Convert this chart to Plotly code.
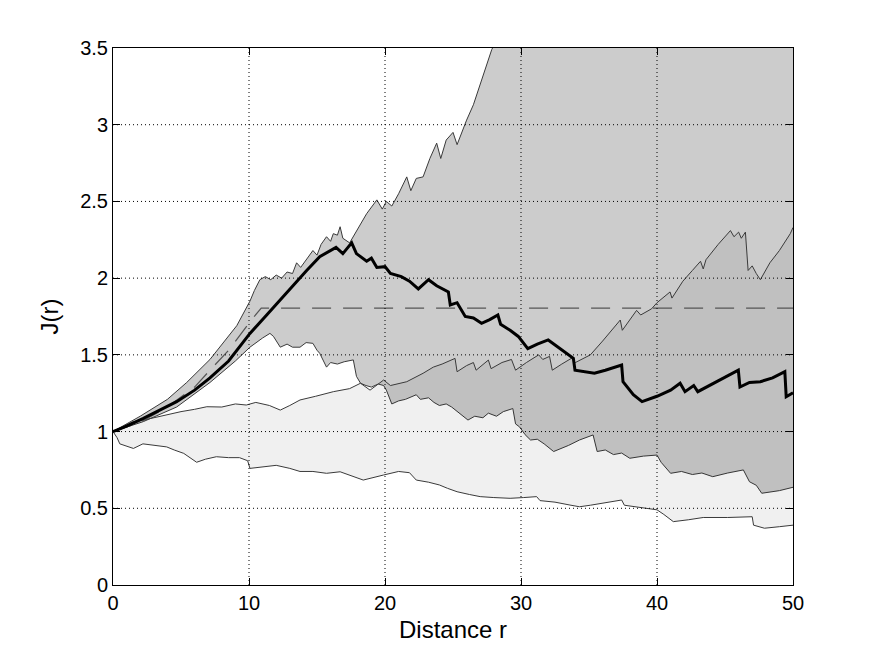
import plotly.graph_objects as go

# ---------------- data ----------------
X_TICKS = [0, 10, 20, 30, 40, 50]
Y_TICKS = [0, 0.5, 1, 1.5, 2, 2.5, 3, 3.5]
Y_TICK_LABELS = ["0", "0.5", "1", "1.5", "2", "2.5", "3", "3.5"]

# envelope A (dark band)
a_up_x = [0, 2, 4, 5.42, 7.13, 9.1, 10.07, 10.4, 10.8, 11.2, 11.6, 12.0, 12.4, 12.8, 13.2, 13.5,
          13.8, 14.2, 14.7, 15.0, 15.3, 15.7, 16.0, 16.2, 16.5, 16.7, 16.9, 17.4, 17.9, 18.65,
          19.4, 19.8, 20.1, 20.5, 21.0, 21.6, 21.9, 22.3, 22.8, 23.3, 23.8, 24.1, 24.5, 25.0,
          25.3, 26.0, 26.5, 27.0, 27.5, 27.85, 28.5, 30, 35, 40, 45, 50]
a_up_y = [1.0, 1.10, 1.21, 1.32, 1.47, 1.69, 1.85, 1.92, 1.99, 2.01, 1.99, 2.02, 2.0, 2.04, 2.03, 2.10,
          2.07, 2.12, 2.18, 2.15, 2.22, 2.27, 2.24, 2.29, 2.28, 2.335, 2.26, 2.23, 2.31, 2.42,
          2.51, 2.45, 2.50, 2.47, 2.55, 2.66, 2.57, 2.65, 2.66, 2.78, 2.88, 2.78, 2.90, 2.95,
          2.87, 3.03, 3.13, 3.26, 3.39, 3.49, 3.6, 3.8, 4.2, 4.6, 5.0, 5.4]

a_lo_x = [0, 2.23, 4.68, 7.13, 9.0, 10.07, 11.0, 11.54, 11.8, 12.3, 12.8, 13.2, 13.75, 14.2, 14.7,
          15.0, 15.2, 15.7, 16.0, 16.5, 17.0, 17.67, 17.9, 18.2, 18.6, 19.0, 19.5, 19.9, 20.1,
          20.5, 21.0, 21.5, 22.3, 22.6, 23.2, 23.6, 24.0, 24.5, 24.9, 25.5, 26.1, 26.6, 27.2,
          27.6, 28.2, 28.7, 29.07, 29.4, 29.6, 29.9, 30.3, 30.7, 31.2, 31.7, 32.4, 33.5, 34.3,
          35.1, 35.3, 35.6, 36.2, 36.8, 37.4, 38.0, 39.0, 40.0, 40.3, 41.0, 41.8, 42.6, 43.3,
          44.1, 45.2, 46.35, 46.8, 47.3, 47.7, 49.0, 50]
a_lo_y = [1.0, 1.065, 1.16, 1.32, 1.46, 1.55, 1.61, 1.64, 1.62, 1.55, 1.57, 1.55, 1.55, 1.58, 1.575,
          1.53, 1.51, 1.42, 1.45, 1.44, 1.455, 1.467, 1.36, 1.315, 1.30, 1.29, 1.31, 1.30, 1.27,
          1.18, 1.20, 1.21, 1.24, 1.21, 1.22, 1.19, 1.17, 1.18, 1.16, 1.12, 1.075, 1.10, 1.09,
          1.12, 1.10, 1.13, 1.14, 1.15, 1.05, 1.03, 0.98, 0.945, 0.95, 0.92, 0.87, 0.91, 0.945,
          0.975, 0.978, 0.87, 0.88, 0.85, 0.86, 0.826, 0.84, 0.847, 0.80, 0.728, 0.74, 0.72, 0.73,
          0.706, 0.73, 0.75, 0.673, 0.65, 0.598, 0.615, 0.637]

# envelope B (light band)
b_up_x = [0, 1.5, 2.5, 3.9, 5.0, 6.0, 6.9, 8.0, 9.0, 9.8, 10.5, 11.5, 12.3, 13.0, 13.75, 14.9,
          16.2, 17.4, 18.2, 18.9, 19.9, 20.4, 21.6, 22.8, 23.55, 24.2, 24.8, 25.15, 25.3, 26.0,
          26.5, 26.7, 27.6, 27.8, 28.6, 29.3, 29.6, 30.4, 31.3, 31.6, 32.1, 32.3, 33.0, 33.7,
          34.0, 35.1, 36.0, 37.3, 37.45, 38.5, 38.8, 39.6, 40.0, 40.96, 41.1, 41.9, 42.6, 43.2,
          43.4, 43.6, 44.5, 45.4, 45.66, 46.0, 46.2, 46.5, 46.7, 47.0, 47.3, 47.6, 48.3, 49.0,
          49.8, 50]
b_up_y = [1.0, 1.065, 1.08, 1.108, 1.13, 1.145, 1.162, 1.16, 1.18, 1.173, 1.19, 1.17, 1.14, 1.17,
          1.206, 1.23, 1.26, 1.28, 1.315, 1.27, 1.336, 1.30, 1.325, 1.38, 1.42, 1.44, 1.466, 1.477,
          1.39, 1.43, 1.45, 1.40, 1.466, 1.41, 1.45, 1.47, 1.40, 1.45, 1.50, 1.47, 1.49, 1.40, 1.44,
          1.477, 1.45, 1.50, 1.59, 1.727, 1.66, 1.79, 1.76, 1.80, 1.84, 1.91, 1.87, 1.98, 2.05,
          2.11, 2.06, 2.12, 2.22, 2.31, 2.27, 2.30, 2.26, 2.30, 2.05, 2.08, 2.03, 1.99, 2.10, 2.18,
          2.29, 2.33]

b_lo_x = [0, 0.3, 0.5, 1.5, 2.2, 3.0, 3.95, 4.5, 5.2, 6.15, 6.8, 7.6, 8.5, 9.3, 9.9, 10.07, 11.0,
          12.0, 13.0, 13.75, 14.7, 15.7, 16.7, 17.4, 18.4, 19.9, 21.0, 21.8, 22.3, 23.2, 24.0,
          24.6, 25.3, 26.2, 27.0, 28.0, 29.2, 30.2, 31.15, 31.4, 32.5, 33.6, 34.3, 35.1, 36.2,
          37.4, 37.6, 38.5, 39.5, 40.0, 40.5, 41.2, 42.3, 43.4, 45.2, 47.0, 47.1, 47.9, 49.0, 50]
b_lo_y = [1.0, 0.96, 0.92, 0.89, 0.92, 0.91, 0.90, 0.88, 0.858, 0.80, 0.82, 0.836, 0.83, 0.83,
          0.81, 0.76, 0.77, 0.78, 0.76, 0.74, 0.74, 0.728, 0.738, 0.717, 0.684, 0.717, 0.74, 0.732,
          0.684, 0.67, 0.652, 0.63, 0.608, 0.59, 0.576, 0.57, 0.565, 0.57, 0.576, 0.55, 0.54,
          0.521, 0.51, 0.52, 0.535, 0.554, 0.52, 0.51, 0.50, 0.49, 0.46, 0.413, 0.425, 0.44, 0.44,
          0.445, 0.39, 0.37, 0.38, 0.39]

# theoretical curve (dashed)
theo_x = [0, 2, 4, 6, 7.13, 8.5, 10.2, 10.9, 50]
theo_y = [1.0, 1.06, 1.16, 1.29, 1.40, 1.53, 1.73, 1.805, 1.805]

# observed J(r) (thick)
obs_x = [0, 1, 2.23, 3.5, 4.68, 6, 7.13, 8.5, 10.07, 11.3, 12.5, 13.4, 14.24, 15.2, 15.96, 16.4,
         16.9, 17.2, 17.55, 17.9, 18.65, 19.0, 19.4, 20.0, 20.4, 21.2, 21.8, 22.45, 23.2, 23.8,
         24.66, 24.8, 25.3, 25.9, 26.5, 27.1, 27.7, 28.3, 28.5, 29.2, 29.8, 30.5, 31.2, 32.0,
         32.6, 33.2, 33.85, 33.97, 34.6, 35.4, 36.2, 37.0, 37.4, 37.5, 38.26, 38.9, 40.0, 41.0,
         41.7, 42.06, 42.7, 43.0, 44.5, 45.98, 46.1, 46.8, 47.6, 48.5, 49.4, 49.5, 50.0]
obs_y = [1.0, 1.035, 1.086, 1.14, 1.195, 1.27, 1.35, 1.46, 1.64, 1.76, 1.88, 1.97, 2.05, 2.14, 2.18,
         2.20, 2.16, 2.19, 2.23, 2.16, 2.11, 2.13, 2.07, 2.075, 2.03, 2.01, 1.98, 1.93, 1.99, 1.95,
         1.91, 1.825, 1.84, 1.75, 1.74, 1.706, 1.73, 1.76, 1.70, 1.66, 1.62, 1.54, 1.57, 1.597,
         1.56, 1.52, 1.477, 1.40, 1.39, 1.38, 1.40, 1.42, 1.434, 1.325, 1.24, 1.195, 1.23, 1.27,
         1.315, 1.26, 1.30, 1.26, 1.33, 1.40, 1.29, 1.32, 1.325, 1.35, 1.39, 1.227, 1.253]

# ---------------- figure ----------------
EDGE = "#3a3a3a"
fig = go.Figure()

fig.add_trace(go.Scatter(x=a_lo_x, y=a_lo_y, mode="lines",
                         line=dict(color=EDGE, width=1), hoverinfo="skip"))
fig.add_trace(go.Scatter(x=a_up_x, y=a_up_y, mode="lines", fill="tonexty",
                         fillcolor="#cccccc", line=dict(color=EDGE, width=1), hoverinfo="skip"))
fig.add_trace(go.Scatter(x=b_lo_x, y=b_lo_y, mode="lines",
                         line=dict(color=EDGE, width=1), hoverinfo="skip"))
fig.add_trace(go.Scatter(x=b_up_x, y=b_up_y, mode="lines", fill="tonexty",
                         fillcolor="rgba(0,0,0,0.06)", line=dict(color=EDGE, width=1),
                         hoverinfo="skip"))
fig.add_trace(go.Scatter(x=theo_x, y=theo_y, mode="lines",
                         line=dict(color="#555555", width=1.2, dash="19px,12px")))
fig.add_trace(go.Scatter(x=obs_x, y=obs_y, mode="lines",
                         line=dict(color="black", width=3)))

# dotted grid on top of the fills (MATLAB style)
shapes = []
for xv in X_TICKS[1:-1]:
    shapes.append(dict(type="line", xref="x", yref="paper", x0=xv, x1=xv, y0=0, y1=1,
                       layer="above", line=dict(color="black", width=1, dash="1px,3px")))
for yv in Y_TICKS[1:-1]:
    shapes.append(dict(type="line", xref="paper", yref="y", x0=0, x1=1, y0=yv, y1=yv,
                       layer="above", line=dict(color="black", width=1, dash="1px,3px")))

FONT = "Arial, 'Liberation Sans', sans-serif"
fig.update_layout(
    width=875, height=659,
    margin=dict(l=113, r=82, t=48, b=74),
    paper_bgcolor="white", plot_bgcolor="white",
    showlegend=False,
    shapes=shapes,
    font=dict(family=FONT, color="black", size=20),
    xaxis=dict(range=[0, 50], tickvals=X_TICKS, ticktext=[str(v) for v in X_TICKS],
               showgrid=False, zeroline=False, showline=True, linecolor="black", linewidth=1,
               mirror="ticks", ticks="inside", ticklen=7, tickcolor="black",
               layer="above traces", tickfont=dict(size=20),
               title=dict(text="Distance r", font=dict(size=24), standoff=8)),
    yaxis=dict(range=[0, 3.5], tickvals=Y_TICKS, ticktext=Y_TICK_LABELS,
               showgrid=False, zeroline=False, showline=True, linecolor="black", linewidth=1,
               mirror="ticks", ticks="inside", ticklen=7, tickcolor="black",
               layer="above traces", tickfont=dict(size=20),
               title=dict(text="J(r)", font=dict(size=24), standoff=14)),
)

fig.write_html("out.html")
